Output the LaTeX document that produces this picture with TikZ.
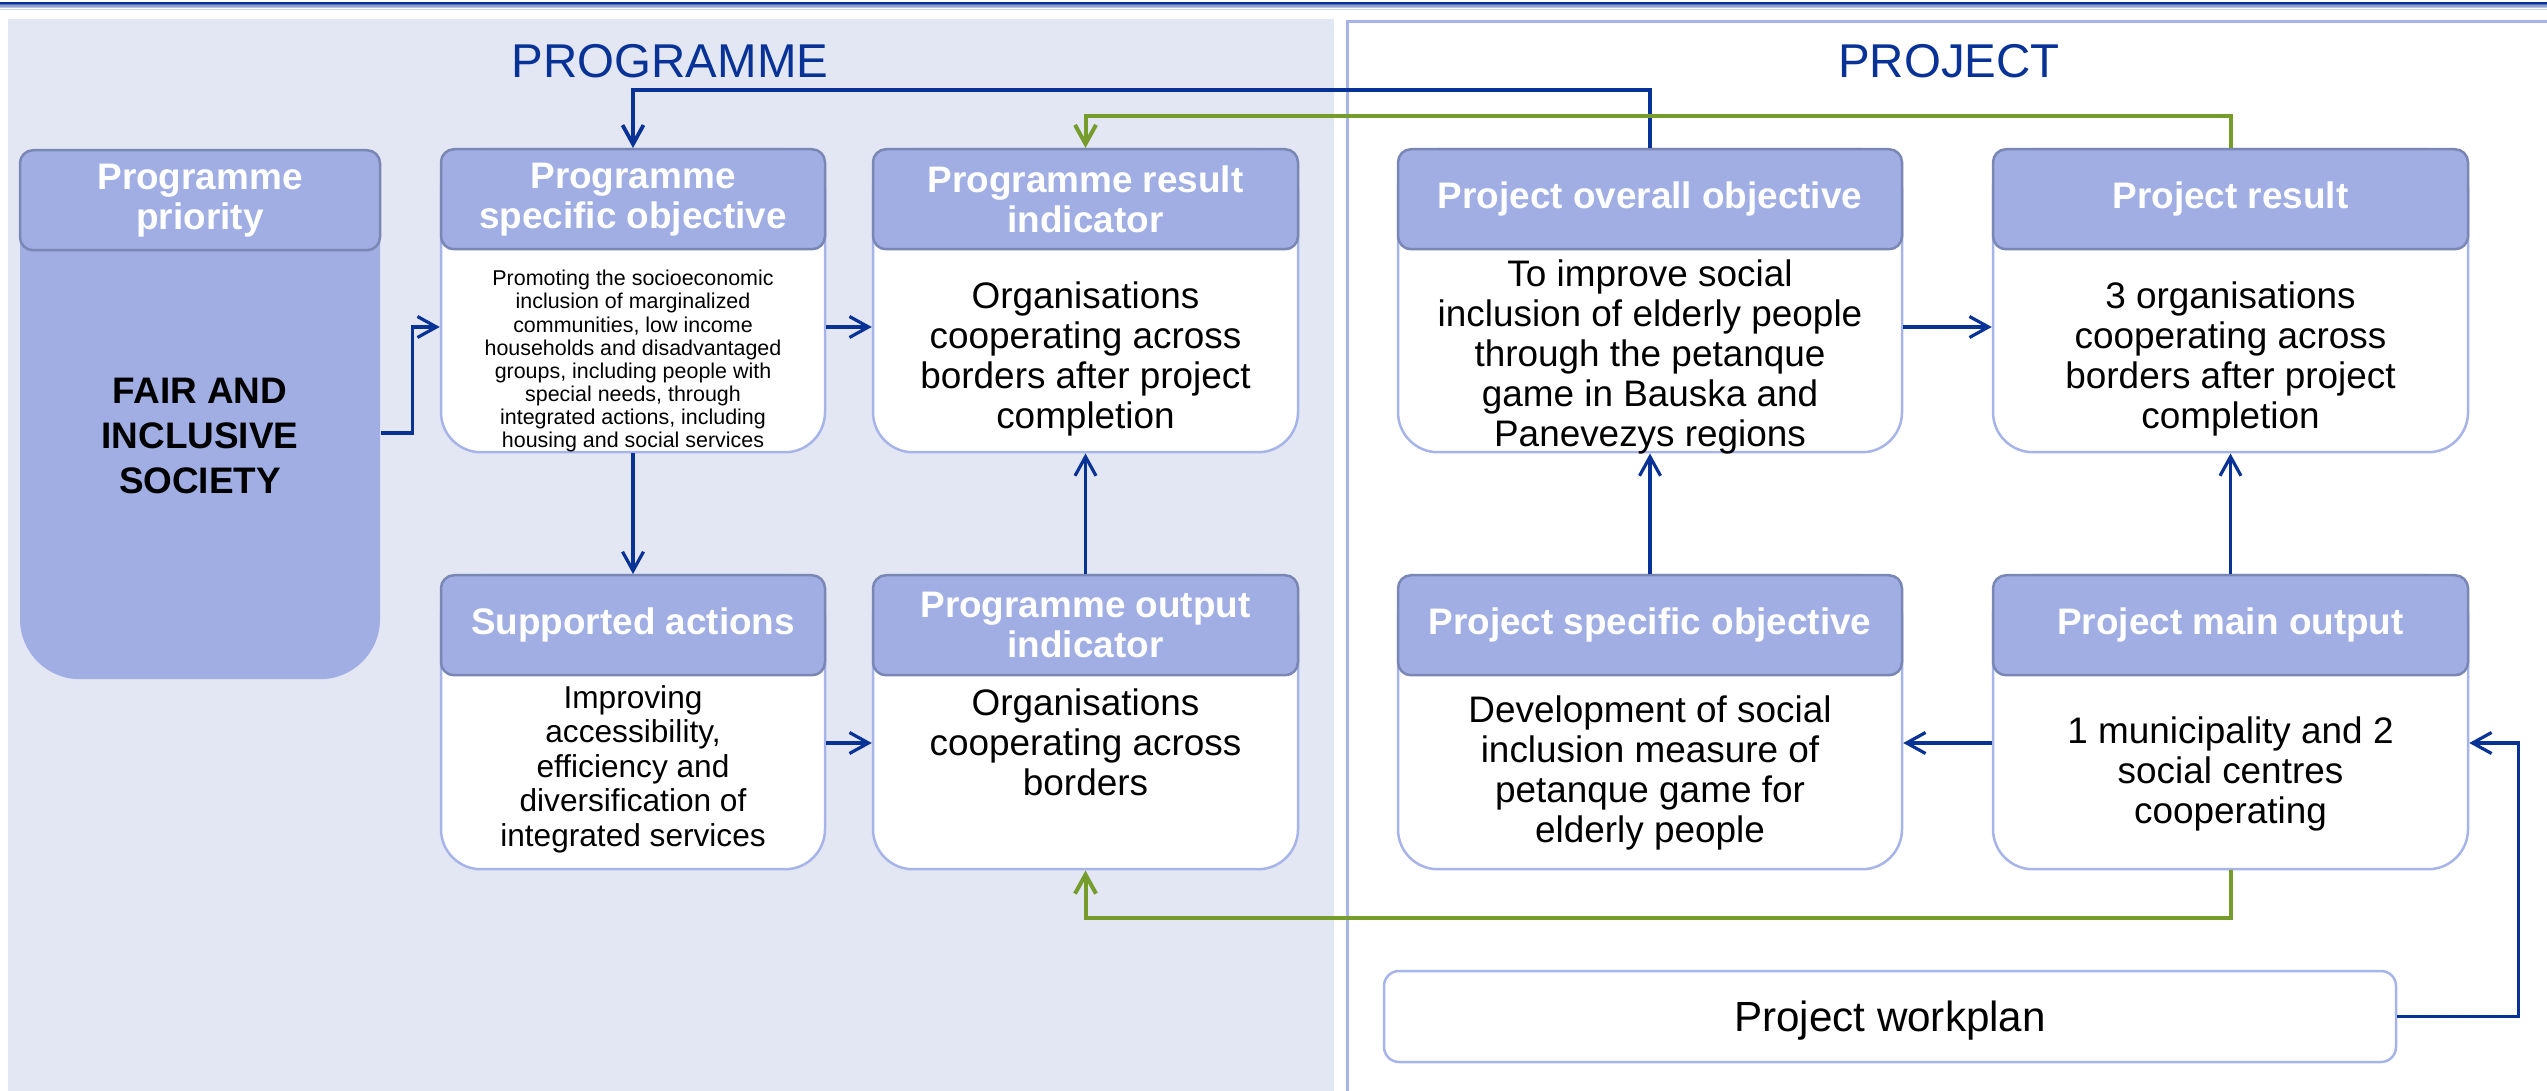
\documentclass[tikz,border=0pt]{standalone}
\usepackage{fontspec}
\setmainfont{Liberation Sans}
\usetikzlibrary{arrows.meta}

\definecolor{panelgrey}{RGB}{227,231,243}
\definecolor{hdrfill}{RGB}{160,174,228}
\definecolor{hdrline}{RGB}{122,134,180}
\definecolor{cardline}{RGB}{166,180,234}
\definecolor{linkblue}{RGB}{8,50,150}
\definecolor{linkgreen}{RGB}{118,156,44}

\begin{document}
\begin{tikzpicture}[x=0.1mm, y=-0.1mm,
    hdr/.style={draw=hdrline, fill=hdrfill, line width=0.25mm, rounded corners=1.3mm,
        text=white, font=\bfseries\fontsize{10.5}{11.4}\selectfont, align=center,
        minimum height=10mm, inner sep=0pt, anchor=north},
    card/.style={draw=cardline, fill=white, line width=0.25mm, rounded corners=4mm,
        inner sep=0pt, anchor=north},
    txt/.style={align=center, inner sep=0pt, font=\fontsize{10.5}{11.4}\selectfont},
    link/.style={draw=linkblue, line width=0.32mm, -{Straight Barb[length=1.9mm,width=2.1mm]}},
    back/.style={link, draw=linkgreen, line width=0.4mm},
    title/.style={text=linkblue, font=\fontsize{13.5}{16}\selectfont}]

    \useasboundingbox (0,0) rectangle (2547,1091);

    % strip along the top edge
    \foreach \ya/\yb/\shade in {2.5/3.8/100, 3.8/5/70, 5/6.8/45, 6.8/8/28, 8.7/9.7/22}
        \fill[linkblue!\shade] (0,\ya) rectangle (2547,\yb);

    % the two panels
    \fill[panelgrey] (8,19) rectangle (1334,1091);
    \draw[cardline, line width=0.3mm] (1347.5,1091) -- (1347.5,21.5) -- (2547,21.5);

    \node[title] (prog) at (670,61) {PROGRAMME};
    \node[title] (proj) at (1949,61) {PROJECT};

    % priority column
    \node[card, fill=hdrfill, draw=none, rounded corners=6mm,
        minimum width=36mm, minimum height=52.9mm] (prio) at (200,149) {};
    \node[hdr, minimum width=36mm] (prio-h) at (prio.north) {Programme\\priority};
    \node[txt, font=\bfseries\fontsize{10.5}{12.8}\selectfont] (prio-t) at (200,436)
        {FAIR AND\\INCLUSIVE\\SOCIETY};

    % cards: name / centre x / top / width / height / heading
    \foreach \n/\cx/\ty/\w/\h/\head in {
        pso/633/148/38.4/30.3/{Programme\\specific objective},
        pri/1085.5/148/42.5/30.3/{Programme result\\indicator},
        sa/633/574/38.4/29.4/{Supported actions},
        poi/1085.5/574/42.5/29.4/{Programme output\\indicator},
        poo/1650/148/50.4/30.3/{Project overall objective},
        pr/2230.5/148/47.5/30.3/{Project result},
        pspo/1650/574/50.4/29.4/{Project specific objective},
        pmo/2230.5/574/47.5/29.4/{Project main output}}
    {
        \node[card, minimum width=\w mm, minimum height=\h mm] (\n) at (\cx,\ty) {};
        \node[hdr, minimum width=\w mm] (\n-h) at (\n.north) {\head};
    }

    \node[txt, font=\fontsize{6.1}{6.55}\selectfont] (pso-t) at (633,361)
        {Promoting the socioeconomic\\inclusion of marginalized\\communities, low income\\households and disadvantaged\\groups, including people with\\special needs, through\\integrated actions, including\\housing and social services};
    \node[txt] (pri-t) at (1085.5,359)
        {Organisations\\cooperating across\\borders after project\\completion};
    \node[txt, font=\fontsize{9}{9.8}\selectfont] (sa-t) at (633,769)
        {Improving\\accessibility,\\efficiency and\\diversification of\\integrated services};
    \node[txt] (poi-t) at (1085.5,742)
        {Organisations\\cooperating across\\borders};
    \node[txt] (poo-t) at (1650,357)
        {To improve social\\inclusion of elderly people\\through the petanque\\game in Bauska and\\Panevezys regions};
    \node[txt] (pr-t) at (2230.5,359)
        {3 organisations\\cooperating across\\borders after project\\completion};
    \node[txt] (pspo-t) at (1650,773)
        {Development of social\\inclusion measure of\\petanque game for\\elderly people};
    \node[txt] (pmo-t) at (2230.5,774)
        {1 municipality and 2\\social centres\\cooperating};

    \node[card, anchor=center, rounded corners=1.5mm, minimum width=101.2mm,
        minimum height=9.1mm, text depth=0pt, font=\fontsize{12}{14}\selectfont]
        (wp) at (1890,1016.5) {Project workplan};

    % connectors
    \coordinate (row1) at (0,327);
    \coordinate (row2) at (0,743);
    \coordinate (fair) at (0,433);

    \draw[link] (prio.east |- fair) -- ++(31,0) |- (pso.west |- row1);
    \draw[link] (pso.east |- row1) -- (pri.west |- row1);
    \draw[link] (pso.south) -- (sa-h.north);
    \draw[link] (sa.east |- row2) -- (poi.west |- row2);
    \draw[link] (poi-h.north) -- (pri.south);
    \draw[link] (poo.east |- row1) -- (pr.west |- row1);
    \draw[link] (pspo-h.north) -- (poo.south);
    \draw[link] (pmo-h.north) -- (pr.south);
    \draw[link] (pmo.west |- row2) -- (pspo.east |- row2);
    \draw[link] (wp.east) -- ++(121,0) |- (pmo.east |- row2);
    \draw[link, line width=0.38mm] (poo-h.north) -- ++(0,-58) -| (pso-h.north);
    \draw[back] (pr-h.north) -- ++(0,-32) -| (pri-h.north);
    \draw[back] (pmo.south) -- ++(0,47) -| (poi.south);
\end{tikzpicture}
\end{document}
